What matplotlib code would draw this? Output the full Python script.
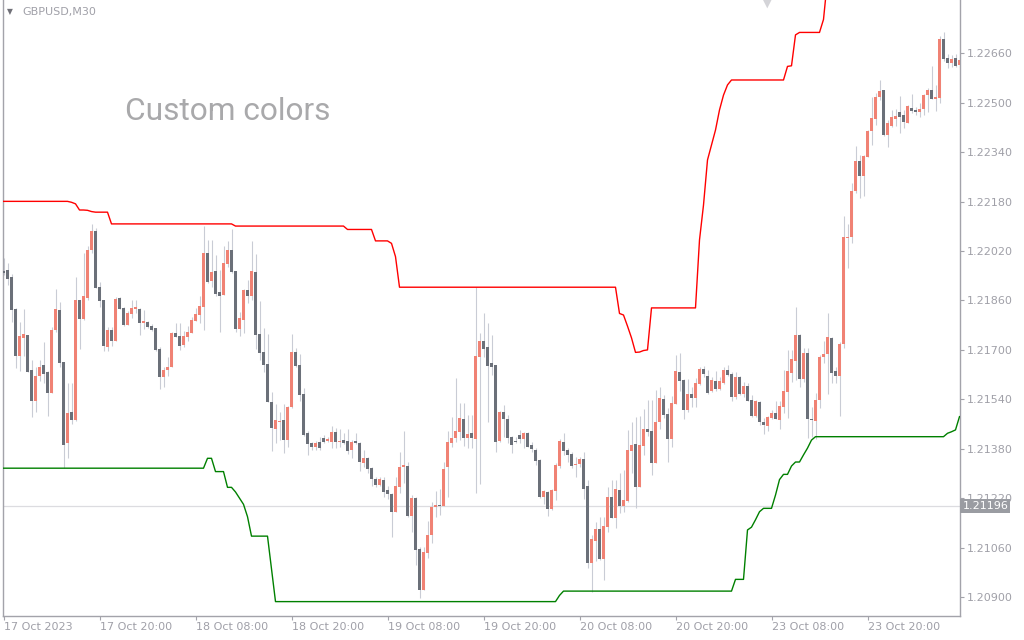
import numpy as np
import matplotlib
matplotlib.use("Agg")
import matplotlib.pyplot as plt

# GBPUSD M30 candles, prices in points (1e-5)
opens = [
    121956, 121959, 121937, 121833, 121681, 121740, 121749, 121635, 121533, 121614,
    121652, 121629, 121562, 121763, 121830, 121661, 121397, 121499, 121473, 121862,
    121800, 121868, 122022, 122085, 121904, 121860, 121711, 121765, 121730, 121868,
    121836, 121781, 121817, 121831, 121831, 121788, 121791, 121776, 121771, 121704,
    121611, 121635, 121645, 121755, 121745, 121717, 121743, 121755, 121795, 121813,
    121840, 122015, 121924, 121956, 121886, 121878, 121979, 122024, 121956, 121768,
    121797, 121895, 121875, 121953, 121752, 121694, 121655, 121530, 121445, 121467,
    121473, 121409, 121514, 121694, 121652, 121558, 121432, 121400, 121385, 121403,
    121414, 121406, 121402, 121435, 121403, 121409, 121405, 121377, 121405, 121399,
    121335, 121350, 121318, 121283, 121261, 121279, 121247, 121234, 121176, 121256,
    121322, 121324, 121162, 121221, 121055, 120923, 121044, 121101, 121191, 121198,
    121196, 121322, 121400, 121415, 121434, 121477, 121416, 121431, 121413, 121678,
    121729, 121710, 121656, 121651, 121405, 121499, 121476, 121418, 121405, 121425,
    121411, 121431, 121393, 121377, 121344, 121224, 121240, 121185, 121244, 121324,
    121402, 121376, 121363, 121327, 121331, 121347, 121259, 121011, 121082, 121120,
    121024, 121128, 121224, 121157, 121246, 121193, 121211, 121374, 121394, 121257,
    121390, 121444, 121439, 121335, 121467, 121541, 121493, 121413, 121526, 121629,
    121603, 121506, 121557, 121545, 121590, 121638, 121616, 121567, 121599, 121572,
    121594, 121635, 121622, 121549, 121612, 121557, 121583, 121538, 121486, 121531,
    121467, 121455, 121480, 121495, 121473, 121516, 121565, 121626, 121665, 121748,
    121605, 121691, 121477, 121471, 121538, 121676, 121687, 121738, 121632, 121617,
    121719, 122062, 122065, 122216, 122312, 122264, 122326, 122409, 122447, 122518,
    122541, 122396, 122426, 122449, 122470, 122461, 122436, 122483, 122477, 122471,
    122479, 122525, 122542, 122514, 122517, 122707, 122646, 122628, 122646, 122623,
]
highs = [
    121997, 121983, 121946, 121835, 121789, 121833, 121749, 121668, 121646, 121666,
    121726, 121633, 121774, 121898, 121855, 121661, 121592, 121592, 121935, 121862,
    122015, 122037, 122108, 122095, 121920, 121862, 121774, 121774, 121871, 121871,
    121838, 121825, 121862, 121862, 121835, 121830, 121794, 121784, 121771, 121708,
    121646, 121676, 121758, 121786, 121786, 121760, 121778, 121808, 121835, 121875,
    122102, 122056, 122056, 122008, 121959, 122035, 122054, 122091, 121956, 121824,
    121898, 121927, 122052, 122011, 121857, 121770, 121752, 121565, 121525, 121500,
    121525, 121519, 121751, 121707, 121687, 121576, 121436, 121403, 121406, 121419,
    121425, 121419, 121452, 121446, 121443, 121430, 121443, 121409, 121430, 121403,
    121376, 121352, 121320, 121290, 121290, 121290, 121258, 121236, 121290, 121370,
    121438, 121338, 121230, 121223, 121063, 121063, 121146, 121209, 121244, 121250,
    121338, 121438, 121484, 121610, 121527, 121527, 121490, 121489, 121903, 121756,
    121819, 121786, 121748, 121651, 121501, 121522, 121489, 121421, 121419, 121441,
    121435, 121435, 121403, 121381, 121346, 121246, 121243, 121249, 121335, 121413,
    121430, 121381, 121371, 121354, 121354, 121371, 121279, 121101, 121144, 121158,
    121160, 121255, 121279, 121279, 121303, 121311, 121441, 121468, 121484, 121486,
    121509, 121538, 121538, 121570, 121581, 121554, 121511, 121551, 121684, 121689,
    121605, 121605, 121581, 121608, 121646, 121649, 121635, 121613, 121633, 121613,
    121646, 121651, 121630, 121630, 121616, 121597, 121592, 121554, 121538, 121535,
    121479, 121486, 121506, 121533, 121533, 121635, 121700, 121700, 121838, 121752,
    121705, 121705, 121516, 121559, 121684, 121730, 121818, 121743, 121646, 121727,
    122134, 122108, 122239, 122360, 122331, 122331, 122412, 122520, 122531, 122574,
    122542, 122444, 122477, 122479, 122522, 122477, 122493, 122529, 122485, 122498,
    122529, 122547, 122619, 122558, 122716, 122730, 122658, 122655, 122658, 122653,
]
lows = [
    121943, 121910, 121789, 121640, 121633, 121681, 121627, 121484, 121500, 121600,
    121592, 121487, 121560, 121759, 121646, 121317, 121351, 121459, 121470, 121703,
    121797, 121862, 122013, 121900, 121840, 121698, 121695, 121713, 121728, 121833,
    121779, 121780, 121804, 121818, 121747, 121769, 121770, 121762, 121695, 121572,
    121581, 121614, 121645, 121741, 121700, 121711, 121730, 121754, 121792, 121786,
    121765, 121916, 121905, 121875, 121759, 121878, 121970, 121948, 121759, 121745,
    121754, 121851, 121862, 121702, 121668, 121630, 121530, 121373, 121400, 121409,
    121366, 121387, 121513, 121646, 121533, 121422, 121359, 121376, 121376, 121376,
    121398, 121403, 121382, 121382, 121387, 121396, 121362, 121349, 121396, 121309,
    121322, 121303, 121258, 121255, 121258, 121225, 121216, 121095, 121174, 121236,
    121268, 121160, 121112, 121004, 120896, 120921, 121025, 121074, 121158, 121166,
    121193, 121225, 121387, 121403, 121408, 121389, 121381, 121381, 121238, 121266,
    121678, 121468, 121619, 121371, 121403, 121419, 121398, 121367, 121398, 121398,
    121381, 121385, 121371, 121327, 121220, 121201, 121163, 121182, 121214, 121317,
    121360, 121338, 121317, 121290, 121322, 121218, 120993, 120917, 121018, 121020,
    120955, 121109, 121155, 121122, 121171, 121176, 121209, 121300, 121187, 121255,
    121360, 121421, 121295, 121333, 121445, 121479, 121338, 121387, 121525, 121567,
    121476, 121500, 121516, 121516, 121586, 121613, 121557, 121565, 121568, 121570,
    121589, 121617, 121536, 121541, 121554, 121549, 121533, 121484, 121482, 121457,
    121428, 121439, 121475, 121475, 121443, 121495, 121479, 121597, 121603, 121581,
    121597, 121414, 121419, 121410, 121511, 121657, 121557, 121592, 121592, 121486,
    121705, 121964, 122047, 122207, 122191, 122198, 122324, 122364, 122428, 122509,
    122394, 122358, 122423, 122425, 122401, 122417, 122434, 122466, 122461, 122453,
    122461, 122471, 122511, 122475, 122498, 122637, 122612, 122617, 122617, 122612,
]
closes = [
    121950, 121931, 121830, 121681, 121745, 121752, 121629, 121535, 121616, 121645,
    121623, 121562, 121765, 121833, 121659, 121392, 121497, 121473, 121862, 121800,
    121875, 122024, 122085, 121902, 121857, 121713, 121763, 121730, 121865, 121834,
    121781, 121820, 121836, 121839, 121788, 121794, 121775, 121765, 121701, 121611,
    121635, 121645, 121755, 121743, 121713, 121745, 121758, 121797, 121817, 121842,
    122015, 121921, 121953, 121881, 121875, 121983, 122024, 121951, 121768, 121804,
    121895, 121876, 121956, 121749, 121691, 121652, 121530, 121448, 121473, 121470,
    121409, 121516, 121694, 121649, 121555, 121423, 121396, 121386, 121398, 121383,
    121402, 121410, 121435, 121403, 121406, 121400, 121374, 121401, 121397, 121336,
    121350, 121316, 121281, 121261, 121282, 121241, 121232, 121176, 121259, 121321,
    121327, 121162, 121221, 121052, 120923, 121046, 121101, 121191, 121198, 121195,
    121314, 121402, 121415, 121438, 121480, 121416, 121428, 121415, 121680, 121729,
    121704, 121648, 121646, 121402, 121499, 121476, 121415, 121393, 121402, 121412,
    121431, 121387, 121380, 121340, 121224, 121243, 121185, 121246, 121327, 121405,
    121373, 121361, 121325, 121331, 121347, 121250, 121011, 121088, 121120, 121022,
    121130, 121224, 121157, 121249, 121195, 121214, 121377, 121393, 121257, 121392,
    121444, 121435, 121335, 121467, 121543, 121489, 121413, 121527, 121632, 121599,
    121506, 121557, 121545, 121592, 121638, 121623, 121559, 121603, 121572, 121599,
    121635, 121619, 121549, 121612, 121557, 121583, 121535, 121486, 121535, 121465,
    121457, 121482, 121495, 121476, 121518, 121567, 121632, 121670, 121748, 121605,
    121691, 121475, 121474, 121538, 121676, 121687, 121741, 121626, 121617, 121719,
    122065, 122065, 122216, 122312, 122264, 122328, 122409, 122450, 122518, 122538,
    122396, 122434, 122453, 122457, 122453, 122438, 122490, 122475, 122471, 122481,
    122525, 122542, 122514, 122520, 122707, 122641, 122628, 122642, 122620, 122639,
]

# channel lines (red = upper, green = lower), one value per bar
upper = ([122181] * 17 + [122178, 122173, 122153, 122153, 122152, 122148]
         + [122146] * 4 + [122108] * 31 + [122101] * 28 + [122090] * 7
         + [122053] * 4 + [122045, 122002] + [121903] * 55
         + [121818, 121813, 121777, 121739, 121692, 121693, 121698, 121700]
         + [121836] * 12
         + [122056, 122169, 122315, 122364, 122412, 122477, 122525, 122558]
         + [122574] * 14 + [122618, 122620, 122720] + [122728] * 6
         + [122770] + [122900] * 34)
lower = ([121317] * 51 + [121349] * 2 + [121306] * 3 + [121255] * 2
         + [121240, 121220, 121200, 121160] + [121097] * 5 + [120990]
         + [120885] * 71 + [120905] + [120919] * 43 + [120957] * 3
         + [121117, 121126, 121150, 121176] + [121187] * 3
         + [121230, 121280, 121297, 121297, 121324, 121337, 121337,
            121360, 121382, 121408]
         + [121419] * 33 + [121430, 121435, 121441, 121484])

current_price = 1.21196
y_ticks = [1.20900, 1.21060, 1.21220, 1.21380, 1.21540, 1.21700, 1.21860,
           1.22020, 1.22180, 1.22340, 1.22500, 1.22660]
x_tick_bars = [0, 24, 48, 72, 96, 120, 144, 168, 192, 216]
x_tick_labels = ["17 Oct 2023", "17 Oct 20:00", "18 Oct 08:00", "18 Oct 20:00",
                 "19 Oct 08:00", "19 Oct 20:00", "20 Oct 08:00", "20 Oct 20:00",
                 "23 Oct 08:00", "23 Oct 20:00"]

o = np.array(opens) / 1e5
h = np.array(highs) / 1e5
l = np.array(lows) / 1e5
c = np.array(closes) / 1e5
up_line = np.array(upper) / 1e5
dn_line = np.array(lower) / 1e5
x = np.arange(len(o))

BULL = "#f08274"
BEAR = "#6b7079"
WICK = "#c9ccd5"
AXIS = "#a3a3aa"
TEXT = "#a0a0a8"
Y_MIN, Y_MAX = 1.208384, 1.22833

fig = plt.figure(figsize=(10.24, 6.4), dpi=100)
ax = fig.add_axes([2.5 / 1024, 24 / 640, 957.5 / 1024, 616 / 640])

ax.axhline(current_price, color="#dcdce0", lw=0.9, zorder=1)

ax.vlines(x, l, h, color=WICK, lw=0.8, zorder=2)
bull = c >= o
body = np.maximum(np.abs(c - o), 0.000025)
ax.bar(x[bull], body[bull], bottom=o[bull], width=0.75, color=BULL,
       linewidth=0, zorder=3)
ax.bar(x[~bull], body[~bull], bottom=c[~bull], width=0.75, color=BEAR,
       linewidth=0, zorder=3)

ax.plot(x, up_line, color="#ff0000", lw=1.0, zorder=4)
ax.plot(x, dn_line, color="#008000", lw=1.0, zorder=4)

ax.set_xlim(-0.25, 239.125)
ax.set_ylim(Y_MIN, Y_MAX)

ax.spines["top"].set_visible(False)
for side in ["left", "right", "bottom"]:
    ax.spines[side].set_color(AXIS)
    ax.spines[side].set_linewidth(1.0)

ax.yaxis.tick_right()
ax.set_yticks(y_ticks)
ax.set_yticklabels([f"{v:.5f}" for v in y_ticks])
ax.tick_params(axis="y", colors=AXIS, labelcolor=TEXT, labelsize=8,
               length=3, width=0.8, pad=2)
ax.set_xticks(x_tick_bars)
ax.set_xticklabels(x_tick_labels, ha="left")
ax.tick_params(axis="x", colors=AXIS, labelcolor=TEXT, labelsize=8,
               length=3, width=0.8, pad=1.5)

# current price tag on the price scale (covers the 1.21220 label, as in MT4)
ax.text(1.0025, current_price, f"{current_price:.5f}", transform=ax.get_yaxis_transform(),
        ha="left", va="center", fontsize=8, color="white", zorder=10, clip_on=False,
        bbox=dict(boxstyle="square,pad=0.18", facecolor="#9a9ca2", edgecolor="none"))

# header
fig.text(22 / 1024, 1 - 12 / 640, "GBPUSD,M30", fontsize=8, color=TEXT,
         ha="left", va="center")
fig.text(10 / 1024, 1 - 12 / 640, "\u25BC", fontsize=5.5, color="#707078",
         ha="center", va="center")
# chart shift marker at the top edge
fig.text(767 / 1024, 1 - 4 / 640, "\u25BC", fontsize=8, color="#d4d4d8",
         ha="center", va="center")

fig.text(125 / 1024, 1 - 112 / 640, "Custom colors", fontsize=22.8, color="#a9a9ab",
         ha="left", va="center", family="Roboto")

fig.savefig("out.png", dpi=100, facecolor="white")
